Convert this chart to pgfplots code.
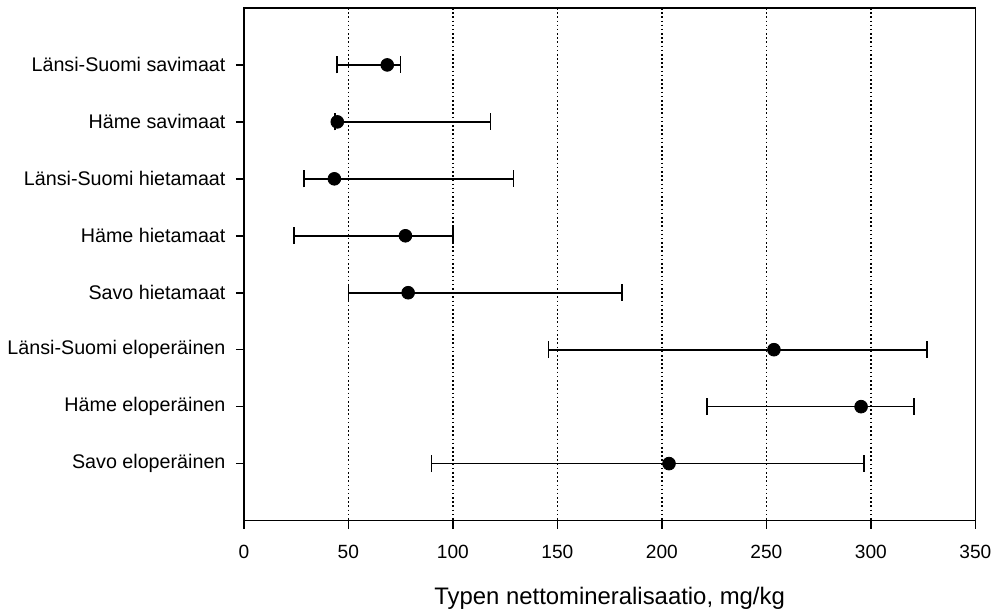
\documentclass[border=0pt]{standalone}
\usepackage{fontspec}
\setmainfont{Liberation Sans}
\usepackage{pgfplots}
\pgfplotsset{compat=1.18}
\usepackage{pgfplotstable}

\pgfplotstableread{
y x ep em
1 68.6 6.4 24.2
2 44.7 73.3 1.1
3 43.3 85.7 14.4
4 77.3 22.7 53.4
5 78.6 102.4 28.6
6 253.6 73.1 107.9
7 295.3 25.3 73.6
8 203.4 93.4 113.6
}\data

\begin{document}
\begin{tikzpicture}
\begin{axis}[
  scale only axis,
  width=367.5pt, height=257.5pt,
  xmin=0, xmax=350, ymin=0, ymax=9,
  y dir=reverse,
  xtick={0,50,...,350},
  ytick={1,...,8},
  yticklabels={Länsi-Suomi savimaat, Häme savimaat, Länsi-Suomi hietamaat, Häme hietamaat, Savo hietamaat, Länsi-Suomi eloperäinen, Häme eloperäinen, Savo eloperäinen},
  tick align=outside,
  xtick pos=lower, ytick pos=left,
  major tick length=4pt,
  every tick/.style={black, line width=0.8pt},
  axis line style={black, line width=0.8pt},
  /pgf/number format/assume math mode=true,
  xticklabel style={font=\fontsize{9.6}{11}\selectfont, yshift=-5pt},
  yticklabel style={font=\fontsize{9.9}{11}\selectfont, xshift=-1.7pt},
  xmajorgrids,
  grid style={black, line width=0.8pt, dash pattern=on 0.8pt off 1.3pt},
  xlabel={Typen nettomineralisaatio, mg/kg},
  xlabel style={font=\fontsize{12}{14}\selectfont, at={(axis description cs:0.5,0)}, anchor=base, yshift=-42pt},
]
\addplot[only marks, mark=*, mark size=3.2pt, black,
  error bars/.cd, x dir=both, x explicit,
  error mark=|,
  error mark options={mark size=4.25pt, line width=0.85pt, black},
  error bar style={line width=0.85pt, black}]
  table[x=x, y=y, x error plus=ep, x error minus=em] {\data};
\end{axis}
\path (current axis.south west) ++(-122.5pt,-46pt) coordinate (bbA);
\path (current axis.north east) ++(9pt,4pt) coordinate (bbB);
\path (bbA) rectangle (bbB);
\end{tikzpicture}
\end{document}
